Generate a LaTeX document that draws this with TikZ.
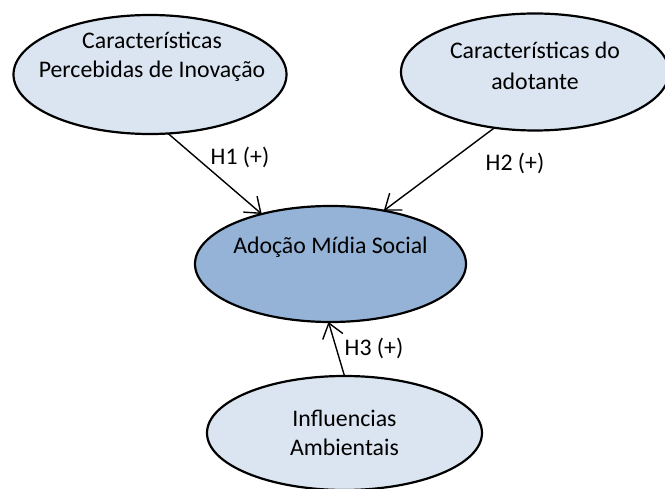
\documentclass[tikz,border=0pt]{standalone}
\usepackage{fontspec}
\setmainfont{Carlito}
\usetikzlibrary{shapes,arrows.meta}
\definecolor{lightblue}{RGB}{219,229,241}
\definecolor{midblue}{RGB}{149,179,215}
\tikzstyle{io} = [ellipse, draw=black, line width=2.2pt, fill=lightblue, inner sep=0pt, outer sep=0pt]
\tikzstyle{txt} = [align=center, inner sep=0pt, font=\fontsize{23.8}{29}\selectfont]
\tikzstyle{arrow} = [line width=1.4pt, -{Straight Barb[length=14pt,width=21pt]}]

\begin{document}
\begin{tikzpicture}[x=1pt,y=-1pt]
\useasboundingbox (0,0) rectangle (665,489);
                        \node[io, minimum width=273pt, minimum height=119pt] (cpi) at (150,74.5) {};
                        \node[txt] (cpit) at (152,56.5) {Características \\ Percebidas de Inovação};
                        \node[io, minimum width=268pt, minimum height=117pt] (ado) at (535,72) {};
                        \node[txt, font=\fontsize{23.8}{31}\selectfont] (adot) at (535,66) {Características do \\ adotante};
                        \node[io, fill=midblue, minimum width=271pt, minimum height=116pt] (ams) at (330.5,264) {};
                        \node[txt] (amst) at (330.5,247) {Adoção Mídia Social};
                        \node[io, minimum width=275pt, minimum height=114pt] (inf) at (344.5,433) {};
                        \node[txt] (inft) at (344.5,433) {Influencias \\ Ambientais};
                        \draw[arrow] (cpi.-73) -- (ams.144);
                        \draw[arrow] (ado.234) -- (ams.45);
                        \draw[arrow] (inf.90) -- (ams.268);
                        \node[txt] (h1) at (240,157) {H1 (+)};
                        \node[txt] (h2) at (515,163) {H2 (+)};
                        \node[txt] (h3) at (374,348) {H3 (+)};
                    \end{tikzpicture}
\end{document}
